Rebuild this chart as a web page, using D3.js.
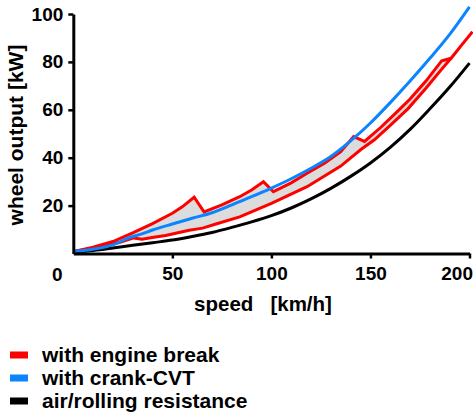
<!DOCTYPE html>
<html lang="en">
  <head>
    <meta charset="UTF-8" />
    <title>Wheel output vs speed</title>
    <script src="https://d3js.org/d3.v7.min.js"></script>
    <style>
      body { margin: 0; background: #fff; }
      text { font-family: "Liberation Sans", Arial, sans-serif; font-weight: bold; fill: #000; }
    </style>
  </head>
  <body>
    <svg id="chart" width="473" height="415"></svg>

    <script>
      // air/rolling resistance [speed, kW]
      const resistance = [
        [1, 0.7], [10, 1.3], [20, 2.3], [30, 3.4], [40, 4.5], [50, 5.6],
        [60, 7.1], [70, 8.8], [80, 10.9], [90, 13.2], [100, 15.8], [110, 19],
        [120, 22.8], [130, 27.2], [140, 32.2], [150, 37.8], [160, 44.3],
        [170, 51.8], [180, 60.4], [190, 69.5], [200, 79.5]
      ];

      // crank-CVT
      const cvt = [
        [1, 1], [10, 1.8], [20, 3.6], [28, 6.5], [35, 8.3], [40, 9.8],
        [50, 12.3], [60, 14.7], [70, 17], [80, 20.3], [90, 23.7], [100, 27.3],
        [110, 31.2], [120, 35.6], [130, 40.5], [140, 47], [150, 54.5],
        [160, 63], [170, 72], [180, 81.5], [190, 91.5], [200, 103]
      ];

      // engine break, upper edge (gear shifts)
      const breakUpper = [
        [1, 1], [10, 2.6], [20, 5], [30, 8.6], [40, 12.5], [50, 16.8],
        [55, 19.5], [61, 23.5], [66, 17.4], [75, 20.3], [84, 23.7],
        [90, 26.5], [96, 30], [101, 25.8], [110, 29.5], [118, 33.5],
        [127, 37.8], [135, 42.5], [141.5, 48.8], [147, 46.8], [155, 52.5],
        [163, 58.8], [170, 64.5], [178, 72], [186, 80.5], [190.7, 81.5],
        [196, 87], [201.5, 92.6]
      ];

      // engine break, lower edge
      const breakLower = [
        [1, 1], [16, 3.1], [24, 4.8], [30.5, 6.5], [34.7, 6], [39.8, 6.7],
        [46.6, 7.5], [53.4, 8.8], [58.5, 9.7], [65.3, 10.6], [72, 12.3],
        [84, 15.3], [100, 20.9], [118, 27.9], [135, 36.5], [145, 43.3],
        [152, 47.5], [160, 53.5], [169, 60.5], [178, 69], [186, 77],
        [190.7, 81.5]
      ];

      const xTicks = [50, 100, 150, 200];
      const yTicks = [20, 40, 60, 80, 100];

      const legendItems = [
        { label: "with engine break", color: "#ff0000" },
        { label: "with crank-CVT", color: "#0a84ff" },
        { label: "air/rolling resistance", color: "#000000" }
      ];

      const svg = d3.select("#chart");

      const x = d3.scaleLinear().domain([0, 200]).range([73.3, 469.5]);
      const y = d3.scaleLinear().domain([0, 100]).range([253.5, 14]);

      const line = d3.line().x((d) => x(d[0])).y((d) => y(d[1]));
      const smooth = d3.line().x((d) => x(d[0])).y((d) => y(d[1])).curve(d3.curveMonotoneX);

      // grey band between the two engine-break edges
      const band = breakUpper.filter((d) => d[0] <= 190.7).concat(breakLower.slice().reverse());
      svg.append("path")
        .attr("d", line(band) + "Z")
        .attr("fill", "#dcdcdc")
        .attr("stroke", "none");

      svg.append("path")
        .attr("d", smooth(resistance))
        .attr("fill", "none")
        .attr("stroke", "#000")
        .attr("stroke-width", 3);

      svg.append("path")
        .attr("d", line(breakLower))
        .attr("fill", "none")
        .attr("stroke", "#ff0000")
        .attr("stroke-width", 3)
        .attr("stroke-linejoin", "miter");

      svg.append("path")
        .attr("d", line(breakUpper))
        .attr("fill", "none")
        .attr("stroke", "#ff0000")
        .attr("stroke-width", 3)
        .attr("stroke-linejoin", "miter");

      svg.append("path")
        .attr("d", smooth(cvt))
        .attr("fill", "none")
        .attr("stroke", "#0a84ff")
        .attr("stroke-width", 3);

      // axes
      const xAxis = svg.append("g")
        .attr("transform", `translate(0,${y(0)})`)
        .call(d3.axisBottom(x).tickValues(xTicks).tickSize(5).tickSizeOuter(0).tickPadding(8));

      const yAxis = svg.append("g")
        .attr("transform", `translate(${x(0)},0)`)
        .call(d3.axisLeft(y).tickValues(yTicks).tickSize(5).tickSizeOuter(0).tickPadding(5));

      [xAxis, yAxis].forEach((g) => {
        g.select(".domain").attr("stroke", "#000").attr("stroke-width", 3);
        g.selectAll(".tick line").attr("stroke", "#000").attr("stroke-width", 2.5);
        g.selectAll(".tick text")
          .style("font-size", "19px")
          .style("font-family", "'Liberation Sans', Arial, sans-serif")
          .style("font-weight", "bold")
          .attr("fill", "#000");
      });

      // last x label is pulled in so it stays inside the frame
      xAxis.selectAll(".tick text")
        .filter((d) => d === 200)
        .attr("text-anchor", "end")
        .attr("x", 3);

      // origin label sits left of the axis corner
      svg.append("text")
        .attr("x", x(0) - 16)
        .attr("y", 280.5)
        .attr("text-anchor", "middle")
        .style("font-size", "19px")
        .text("0");

      svg.append("text")
        .attr("transform", "translate(23,135) rotate(-90)")
        .attr("text-anchor", "middle")
        .style("font-size", "21px")
        .text("wheel output [kW]");

      svg.append("text")
        .attr("x", 263)
        .attr("y", 311)
        .attr("text-anchor", "middle")
        .attr("xml:space", "preserve")
        .style("white-space", "pre")
        .style("font-size", "20.5px")
        .text("speed   [km/h]");

      // legend
      const legend = svg.append("g");
      legendItems.forEach((d, i) => {
        legend.append("rect")
          .attr("x", 10)
          .attr("y", 351.5 + i * 23)
          .attr("width", 18)
          .attr("height", 7)
          .attr("fill", d.color);
        legend.append("text")
          .attr("x", 42)
          .attr("y", 362 + i * 23)
          .style("font-size", "21px")
          .text(d.label);
      });
    </script>
  </body>
</html>
